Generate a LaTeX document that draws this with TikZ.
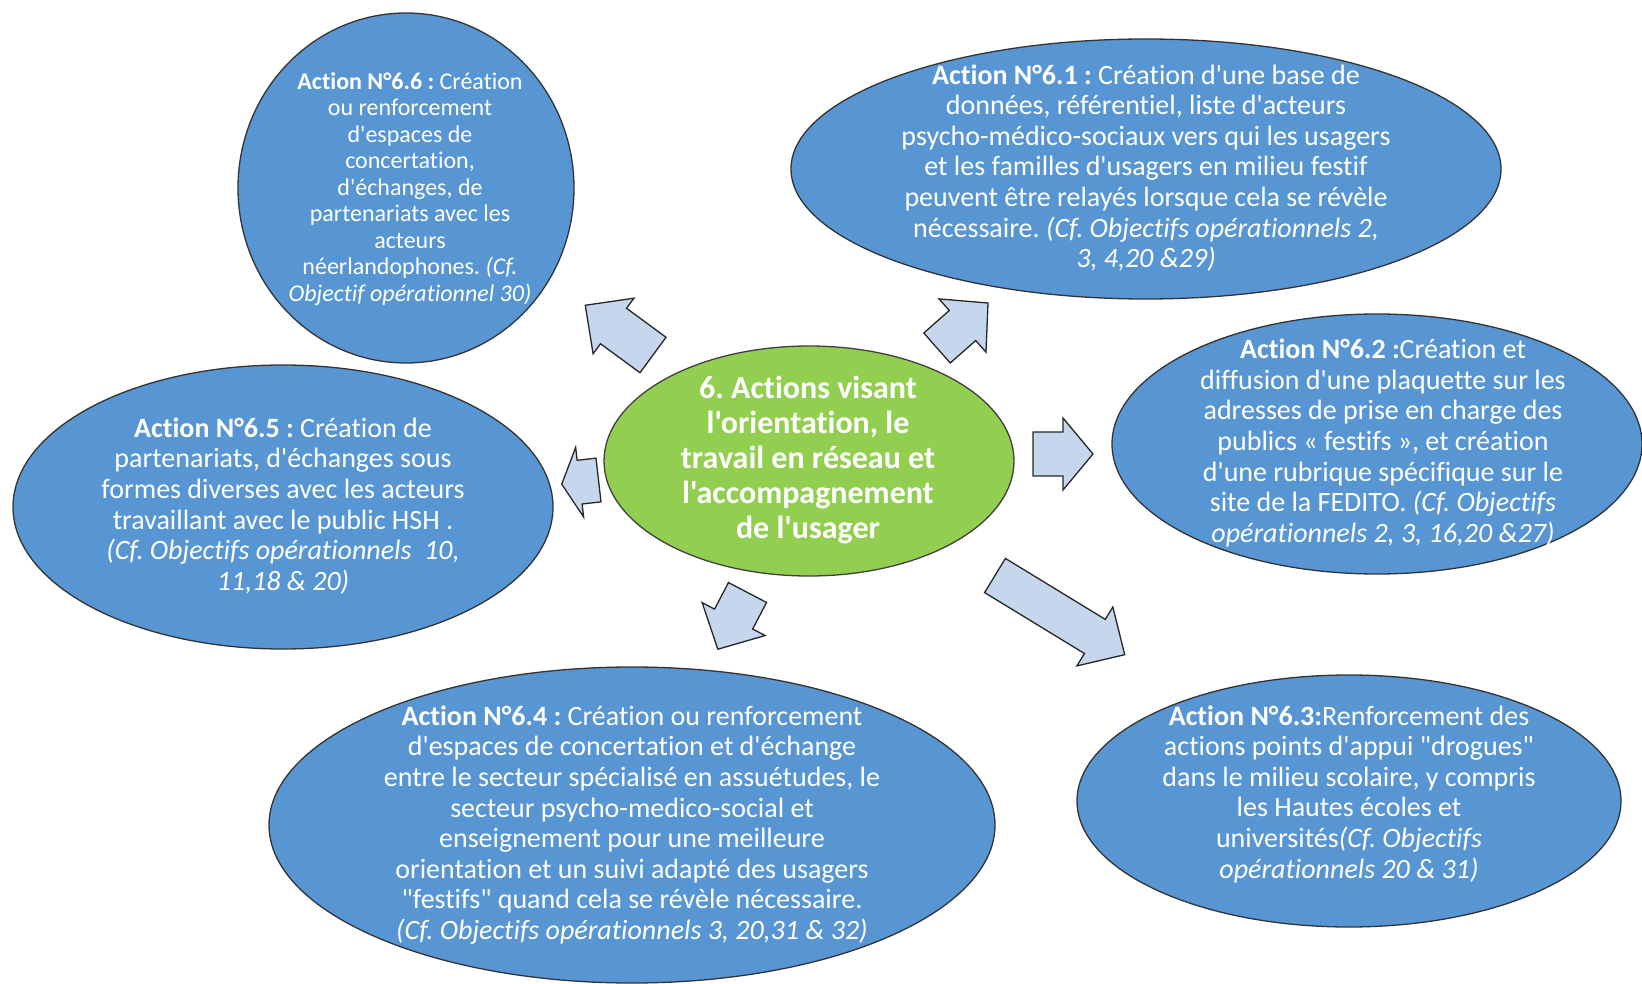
\documentclass[tikz,border=0pt]{standalone}
\usepackage{fontspec}
\setmainfont{Carlito}[Ligatures={TeXOff,CommonOff}]
\usetikzlibrary{shapes.geometric}
\frenchspacing

\definecolor{ellblue}{RGB}{88,150,211}
\definecolor{ellgreen}{RGB}{146,206,80}
\definecolor{arrowfill}{RGB}{198,215,237}

% glossy rim: flat colour inside, lighter towards the border
\pgfdeclareradialshading{bluegloss}{\pgfpoint{0bp}{0bp}}{%
  color(0bp)=(ellblue); color(42bp)=(ellblue); color(47bp)=(ellblue!78!white);
  color(50bp)=(ellblue!86!white); color(100bp)=(ellblue!86!white)}
\pgfdeclareradialshading{greengloss}{\pgfpoint{0bp}{0bp}}{%
  color(0bp)=(ellgreen); color(42bp)=(ellgreen); color(47bp)=(ellgreen!78!white);
  color(50bp)=(ellgreen!86!white); color(100bp)=(ellgreen!86!white)}

\tikzset{
  actionell/.style={ellipse, draw=black!80, line width=1.3pt, shading=bluegloss, inner sep=0pt},
  centreell/.style={ellipse, draw=black!75, line width=1.3pt, shading=greengloss, inner sep=0pt},
  actiontext/.style={text=white, align=center, inner sep=0pt, font=\fontsize{28}{30.6}\selectfont},
  smalltext/.style={text=white, align=center, inner sep=0pt, font=\fontsize{24}{26.5}\selectfont},
  centretext/.style={text=white, align=center, inner sep=0pt, font=\bfseries\fontsize{32}{35}\selectfont},
  blockarrow/.style={draw=black!85, line width=1.3pt, fill=arrowfill, line join=miter},
  % block arrow from its tail midpoint: length, shaft half-width, head half-width, head length
  pics/blockarr/.style n args={4}{code={
    \draw[blockarrow] (0,-#2) -- ({#1-#4},-#2) -- ({#1-#4},-#3) -- (#1,0)
      -- ({#1-#4},#3) -- ({#1-#4},#2) -- (0,#2) -- cycle;
  }},
}

\begin{document}
\begin{tikzpicture}[x=1pt, y=-1pt]
\useasboundingbox (0,0) rectangle (1642,984);

% central theme
\node[centreell, minimum width=410, minimum height=230] (centre) at (809,461) {};
\node[centretext] (centretxt) at (808,460)
  {6. Actions visant\\l'orientation, le\\travail en réseau et\\l'accompagnement\\de l'usager};

% action 6.6
\node[actionell, minimum width=336, minimum height=350] (e66) at (406,188) {};
\node[smalltext] (t66) at (410,189)
  {\textbf{Action N°6.6 :} Création\\ou renforcement\\d'espaces de\\concertation,\\d'échanges, de\\partenariats avec les\\acteurs\\néerlandophones. \textit{(Cf.}\\\textit{Objectif opérationnel 30)}};

% action 6.1
\node[actionell, minimum width=710, minimum height=260] (e61) at (1146,169) {};
\node[actiontext] (t61) at (1146,168)
  {\textbf{Action N°6.1 :} Création d'une base de\\données, référentiel, liste d'acteurs\\psycho-médico-sociaux vers qui les usagers\\et les familles d'usagers en milieu festif\\peuvent être relayés lorsque cela se révèle\\nécessaire. \textit{(Cf. Objectifs opérationnels 2,}\\\textit{3, 4,20 \&29)}};

% action 6.2
\node[actionell, minimum width=530, minimum height=260] (e62) at (1377,444) {};
\node[actiontext] (t62) at (1383,443)
  {\textbf{Action N°6.2 :}Création et\\diffusion d'une plaquette sur les\\adresses de prise en charge des\\publics « festifs », et création\\d'une rubrique spécifique sur le\\site de la FEDITO. \textit{(Cf. Objectifs}\\\textit{opérationnels 2, 3, 16,20 \&27)}};

% action 6.5
\node[actionell, minimum width=540, minimum height=284] (e65) at (283,507) {};
\node[actiontext] (t65) at (283,506)
  {\textbf{Action N°6.5 :} Création de\\partenariats, d'échanges sous\\formes diverses avec les acteurs\\travaillant avec le public HSH .\\\textit{(Cf. Objectifs opérationnels~~10,}\\\textit{11,18 \& 20)}};

% action 6.4
\node[actionell, minimum width=726, minimum height=316] (e64) at (632,825) {};
\node[actiontext] (t64) at (632,825)
  {\textbf{Action N°6.4 :} Création ou renforcement\\d'espaces de concertation et d'échange\\entre le secteur spécialisé en assuétudes, le\\secteur psycho-medico-social et\\enseignement pour une meilleure\\orientation et un suivi adapté des usagers\\"festifs" quand cela se révèle nécessaire.\\\textit{(Cf. Objectifs opérationnels 3, 20,31 \& 32)}};

% action 6.3
\node[actionell, minimum width=544, minimum height=252] (e63) at (1349,801) {};
\node[actiontext] (t63) at (1349,794)
  {\textbf{Action N°6.3:}Renforcement des\\actions points d'appui "drogues"\\dans le milieu scolaire, y compris\\les Hautes écoles et\\universités\textit{(Cf. Objectifs}\\\textit{opérationnels 20 \& 31)}};

% block arrows radiating from the central theme (placed at their tail midpoints)
\pic[rotate=143.7] at (653,355) {blockarr={84}{22}{34.5}{35}};
\pic[rotate=41.4] at (937,348) {blockarr={68}{20}{35.5}{34}};
\pic[rotate=186.5] at (598.5,480) {blockarr={37}{22}{35}{18}};
\pic at (1033,454) {blockarr={60}{22}{36}{30}};
\pic[rotate=242.4] at (747.5,592.5) {blockarr={64}{21.5}{35.5}{34}};
\pic[rotate=-31.4] at (995,575.5) {blockarr={152}{20}{34.5}{35}};
\end{tikzpicture}
\end{document}
